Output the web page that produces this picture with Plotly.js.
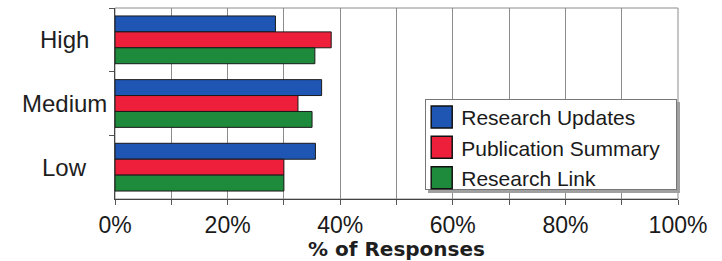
<!DOCTYPE html>
<html>
<head>
<meta charset="utf-8">
<script src="https://cdn.plot.ly/plotly-3.0.1.min.js"></script>
<style>html,body{margin:0;padding:0;background:#fff;}#chart{width:722px;height:261px;}</style>
</head>
<body>
<div id="chart"></div>
<script>
// Data (% of responses)
const categories = ['High', 'Medium', 'Low'];
const seriesNames = ['Research Updates', 'Publication Summary', 'Research Link'];
const researchUpdates = [28.5, 36.7, 35.6];
const publicationSummary = [38.4, 32.5, 30.0];
const researchLink = [35.5, 35.0, 30.0];
const xTickVals = [0, 20, 40, 60, 80, 100];
const xTickText = ['0%', '20%', '40%', '60%', '80%', '100%'];
const xTitle = '% of Responses';

const colors = ['#1f55b3', '#ee1f3b', '#1d8b3b'];
const values = [researchUpdates, publicationSummary, researchLink];

const traces = values.map((v, i) => ({
  type: 'bar',
  orientation: 'h',
  name: seriesNames[i],
  y: categories,
  x: v,
  marker: {color: colors[i], line: {color: '#1a1a1a', width: 1}},
  hoverinfo: 'none'
}));

const font = 'Liberation Sans, Arial, sans-serif';

const annotations = categories.map(c => ({
  xref: 'paper', yref: 'y', x: -0.09, y: c, text: c,
  showarrow: false, xanchor: 'center', yanchor: 'middle',
  font: {family: font, size: 24, color: '#1e1e1e'}
}));

const layout = {
  width: 722, height: 261,
  margin: {l: 115, r: 44, t: 8, b: 62, pad: 0},
  paper_bgcolor: '#ffffff', plot_bgcolor: '#ffffff',
  barmode: 'group', bargap: 0.25, bargroupgap: 0,
  showlegend: true,
  legend: {
    x: 0.551, y: 0.524, xanchor: 'left', yanchor: 'top',
    bgcolor: '#ffffff', bordercolor: '#777', borderwidth: 1,
    font: {family: font, size: 21, color: '#1a1a1a'},
    traceorder: 'normal'
  },
  xaxis: {
    range: [0, 100], tickvals: xTickVals, ticktext: xTickText,
    ticks: 'outside', ticklen: 5, tickcolor: '#555',
    showgrid: true, gridcolor: '#8c8c8c', gridwidth: 1,
    minor: {dtick: 10, showgrid: true, gridcolor: '#8c8c8c', gridwidth: 1, ticks: 'outside', ticklen: 5, tickcolor: '#555'},
    showline: true, linecolor: '#444', linewidth: 1,
    zeroline: false,
    tickfont: {family: font, size: 23, color: '#1a1a1a'},
    title: {text: xTitle, font: {family: 'DejaVu Sans, sans-serif', size: 20, color: '#1e1e1e', weight: 'bold'}, standoff: 5},
    fixedrange: true
  },
  yaxis: {
    type: 'category', range: [2.5, -0.5],
    showticklabels: false,
    ticks: 'outside', ticklen: 5, tickcolor: '#555', tickson: 'boundaries',
    showgrid: false, showline: true, linecolor: '#444', linewidth: 1,
    zeroline: false, fixedrange: true
  },
  shapes: [{
    type: 'rect', xref: 'paper', yref: 'paper', x0: 0, x1: 1, y0: 0, y1: 1,
    line: {color: '#8c8c8c', width: 1}, layer: 'below'
  }],
  annotations: annotations
};

Plotly.newPlot('chart', traces, layout, {staticPlot: true, displayModeBar: false}).then(gd => {
  gd.querySelectorAll('.legendpoints path').forEach(p => {
    p.removeAttribute('transform');
    p.setAttribute('d', 'M5,-11H26V11H5Z');
    p.style.strokeWidth = '1.5px';
    p.style.stroke = '#111';
  });
  gd.querySelectorAll('.legend .legendtext').forEach(t => {
    const x = parseFloat(t.getAttribute('x')) || 40;
    t.setAttribute('x', x - 5);
  });
  const scroll = gd.querySelector('.legend .scrollbox');
  if (scroll) {
    scroll.setAttribute('transform', (scroll.getAttribute('transform') || '') + ' translate(0,-3)');
  }
  const bg = gd.querySelector('.legend .bg');
  if (bg) {
    bg.setAttribute('width', 251);
    bg.setAttribute('height', 90);
    const sh = bg.cloneNode(false);
    sh.setAttribute('class', 'legend-shadow');
    const t = bg.getAttribute('transform') || '';
    sh.setAttribute('transform', t + ' translate(3,3)');
    sh.style.fill = '#a0a0a0';
    sh.style.stroke = '#a0a0a0';
    bg.parentNode.insertBefore(sh, bg);
  }
  const clip = gd.querySelector('clipPath[id*="legend"] rect');
  if (clip) { clip.setAttribute('width', 260); clip.setAttribute('height', 100); }
});
</script>
</body>
</html>
